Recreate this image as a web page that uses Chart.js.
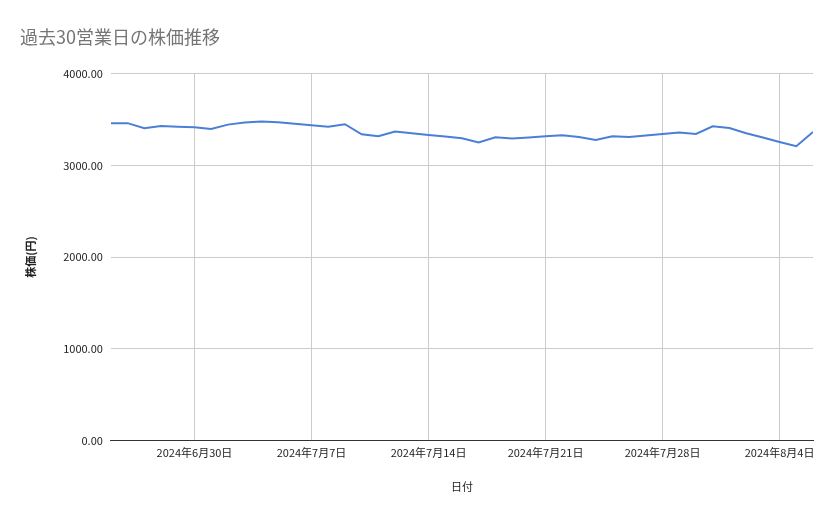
<!DOCTYPE html>
<html>
<head>
<meta charset="utf-8">
<script src="https://cdn.jsdelivr.net/npm/chart.js@4"></script>
<style>
body { margin: 0; background: #fff; }
#wrap { width: 839px; height: 519px; }
</style>
</head>
<body>
<div id="wrap"><canvas id="canvas"></canvas></div>
<script>
// day 0 = 2024-06-25
const startDate = new Date(2024, 5, 25);
const prices = [3458, 3460, 3404, 3430, 3422, 3414, 3397, 3444, 3466, 3477,
  3469, 3453, 3437, 3422, 3448, 3338, 3317, 3368, 3350, 3332,
  3315, 3296, 3250, 3306, 3292, 3304, 3316, 3328, 3310, 3277,
  3317, 3310, 3325, 3341, 3357, 3342, 3426, 3407, 3350, 3303,
  3255, 3208, 3364];
const tickDays = [5, 12, 19, 26, 33, 40];
const yTicks = [0, 1000, 2000, 3000, 4000];

function dayLabel(d) {
  const dt = new Date(startDate.getTime() + d * 86400000);
  return dt.getFullYear() + '年' + (dt.getMonth() + 1) + '月' + dt.getDate() + '日';
}

Chart.defaults.font.family = "'Noto Sans CJK JP', 'Noto Sans', sans-serif";
Chart.defaults.color = '#222';

const ctx = document.getElementById('canvas').getContext('2d');
const myChart = new Chart(ctx, {
  type: 'line',
  data: {
    datasets: [{
      data: prices.map((p, i) => ({ x: i, y: p })),
      borderColor: '#4a7fd6',
      borderWidth: 2,
      pointRadius: 0,
      tension: 0
    }]
  },
  options: {
    responsive: true,
    maintainAspectRatio: false,
    animation: false,
    layout: { padding: { left: 20, right: 26, top: 0, bottom: 22 } },
    plugins: {
      legend: { display: false },
      tooltip: { enabled: false },
      title: {
        display: true,
        text: '過去30営業日の株価推移',
        align: 'start',
        color: '#757575',
        font: { size: 18, weight: 'normal' },
        padding: { top: 26, bottom: 26 }
      }
    },
    scales: {
      x: {
        type: 'linear',
        min: 0,
        max: prices.length - 1,
        afterBuildTicks: axis => { axis.ticks = tickDays.map(v => ({ value: v })); },
        ticks: { callback: v => dayLabel(v), maxRotation: 0, font: { size: 11 }, padding: 6 },
        grid: { color: '#cccccc', drawTicks: false },
        border: { color: '#333' },
        title: { display: true, text: '日付', font: { size: 11 }, padding: { top: 14 } }
      },
      y: {
        min: 0,
        max: 4000,
        afterBuildTicks: axis => { axis.ticks = yTicks.map(v => ({ value: v })); },
        ticks: { callback: v => v.toFixed(2), font: { size: 11 }, padding: 8 },
        grid: { color: '#cccccc', drawTicks: false },
        border: { display: false },
        title: { display: true, text: '株価(円)', font: { size: 11, weight: 'bold' }, padding: { bottom: 18 } }
      }
    }
  }
});
</script>
</body>
</html>
